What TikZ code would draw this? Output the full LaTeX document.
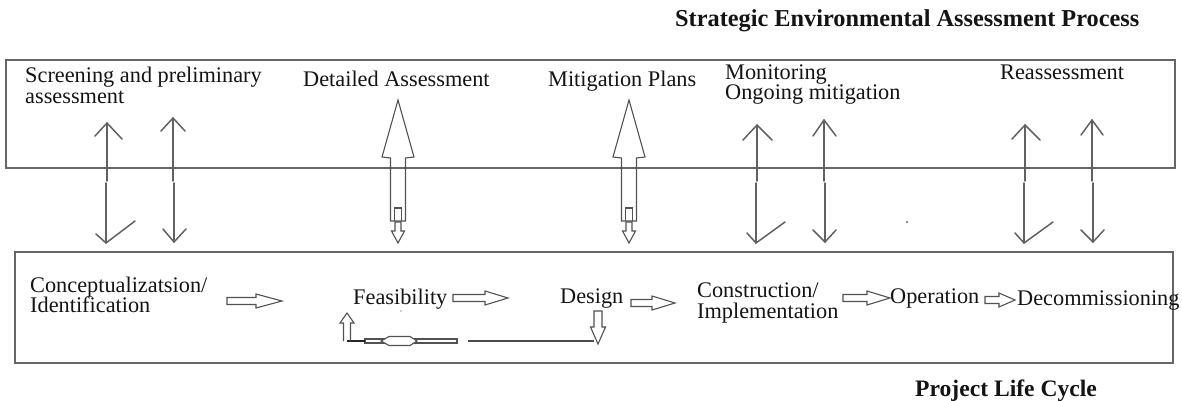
\documentclass[tikz,border=0pt]{standalone}
\usepackage{fontspec}
\setmainfont{Liberation Serif}
\newcommand\hollowright[4]{%
  \draw[blockline] (#1,#4-3.5) -- (#2,#4-3.5) -- (#2,#4-7) -- (#3,#4) -- (#2,#4+7) -- (#2,#4+3.5) -- (#1,#4+3.5) -- cycle;}
\newcommand\bigup[1]{%
  \begin{scope}[xshift=#1pt]
  \draw[blockline] (0,100) -- (16,157) -- (7.5,158) -- (7.5,221) -- (-7.5,221) -- (-7.5,158) -- (-16,157) -- cycle;
  \draw[blockline] (-3.5,221) -- (-3.5,208) -- (3.5,208) -- (3.5,221);
  \draw[blockline] (-3,222) -- (3,222) -- (3,231) -- (6.5,231) -- (0,243) -- (-6.5,231) -- (-3,231) -- cycle;
  \end{scope}}
\begin{document}
\begin{tikzpicture}[x=1pt,y=-1pt,
  box/.style={draw=black!60, line width=1.4pt},
  thinarrow/.style={draw=black!62, line width=1.5pt, line cap=round, line join=round},
  blockline/.style={draw=black!68, line width=1.1pt, line join=miter},
  lbl/.style={anchor=base west, inner sep=0pt, text=black!92, font=\fontsize{22.3}{21}\selectfont},
  ttl/.style={anchor=base west, inner sep=0pt, text=black!92, font=\fontsize{24.3}{24}\selectfont\bfseries}]
\useasboundingbox (0,0) rectangle (1182,401);

% titles
\node[ttl] (title) at (675,27) {Strategic Environmental Assessment Process};
\node[ttl, font=\fontsize{23.6}{24}\selectfont\bfseries] (plc) at (915,396) {Project Life Cycle};

% boxes
\draw[box] (6,60) rectangle (1175,168);
\draw[box] (15,252) rectangle (1173,363);

% top labels
\node[lbl] (scr1) at (25,83) {Screening and preliminary};
\node[lbl] (scr2) at (25,104) {assessment};
\node[lbl] (det) at (303,87) {Detailed Assessment};
\node[lbl] (mit) at (548,87) {Mitigation Plans};
\node[lbl] (mon1) at (725,80) {Monitoring};
\node[lbl] (mon2) at (725,100) {Ongoing mitigation};
\node[lbl] (rea) at (1000,80) {Reassessment};

% bottom labels
\node[lbl] (con1) at (30,292) {Conceptualizatsion/};
\node[lbl] (con2) at (30,312) {Identification};
\node[lbl] (fea) at (353,304) {Feasibility};
\node[lbl] (des) at (560,303) {Design};
\node[lbl] (cst1) at (697,297) {Construction/};
\node[lbl] (cst2) at (697,318) {Implementation};
\node[lbl] (ope) at (890,303) {Operation};
\node[lbl] (dec) at (1017,305) {Decommissioning};

% thin two-way arrows: pair 1
\coordinate (a1t) at (107,123); \coordinate (a1m) at (107,181); \coordinate (a1b) at (106,243);
\draw[thinarrow] (95,136) -- (a1t) -- (122,139);
\draw[thinarrow] (a1t) -- (a1m);
\draw[thinarrow] (106,183) -- (a1b);
\draw[thinarrow] (96,234) -- (a1b) -- (135,221);
\coordinate (a2t) at (173,118); \coordinate (a2m) at (173,181); \coordinate (a2b) at (174,242);
\draw[thinarrow] (161,131) -- (a2t) -- (185,131);
\draw[thinarrow] (a2t) -- (a2m);
\draw[thinarrow] (174,183) -- (a2b);
\draw[thinarrow] (163,229) -- (a2b) -- (186,229);
% pair 2 (monitoring)
\coordinate (a3t) at (757,125); \coordinate (a3m) at (757,181); \coordinate (a3b) at (756,243);
\draw[thinarrow] (743,140) -- (a3t) -- (772,140);
\draw[thinarrow] (a3t) -- (a3m);
\draw[thinarrow] (756,183) -- (a3b);
\draw[thinarrow] (747,233) -- (a3b) -- (785,222);
\coordinate (a4t) at (824,120); \coordinate (a4m) at (824,181); \coordinate (a4b) at (825,242);
\draw[thinarrow] (813,136) -- (a4t) -- (836,136);
\draw[thinarrow] (a4t) -- (a4m);
\draw[thinarrow] (825,183) -- (a4b);
\draw[thinarrow] (813,230) -- (a4b) -- (836,230);
% pair 3 (reassessment)
\coordinate (a5t) at (1025,125); \coordinate (a5m) at (1025,181); \coordinate (a5b) at (1024,243);
\draw[thinarrow] (1012,139) -- (a5t) -- (1040,140);
\draw[thinarrow] (a5t) -- (a5m);
\draw[thinarrow] (1024,183) -- (a5b);
\draw[thinarrow] (1015,233) -- (a5b) -- (1053,222);
\coordinate (a6t) at (1092,120); \coordinate (a6m) at (1092,181); \coordinate (a6b) at (1093,242);
\draw[thinarrow] (1081,135) -- (a6t) -- (1103,135);
\draw[thinarrow] (a6t) -- (a6m);
\draw[thinarrow] (1093,183) -- (a6b);
\draw[thinarrow] (1081,230) -- (a6b) -- (1104,230);

% big block arrows
\bigup{398}
\bigup{629}

% horizontal hollow arrows
\hollowright{227}{256}{282}{301}
\hollowright{453}{485}{508}{298}
\hollowright{631}{652}{675}{303}
\hollowright{843}{867}{890}{298}
\hollowright{985}{999}{1015}{300}

% feedback loop
\coordinate (fbR) at (598,341);
\coordinate (fbL) at (347,341);
\draw[blockline] (594,311) -- (602,311) -- (602,327) -- (605.5,327) -- (598,344) -- (590.5,327) -- (594,327) -- cycle;
\draw[draw=black!70, line width=1.1pt] (fbR) ++(-4,0) -- (468,341);
\draw[blockline] (365,339) -- (457,339) -- (457,343) -- (365,343) -- cycle;
\draw[blockline, fill=white] (381,341) -- (389,336.5) -- (410,336.5) -- (417,341) -- (410,345.5) -- (389,345.5) -- cycle;
\draw[draw=black!85, line width=1.3pt] (fbL) -- (365,341);
\draw[blockline] (343.5,341) -- (343.5,323) -- (340,323) -- (347,313) -- (354,323) -- (350.5,323) -- (350.5,341);

% stray dots
\fill[black!60] (907,222) circle (1.2);
\fill[black!40] (401,311) circle (0.9);
\end{tikzpicture}
\end{document}
